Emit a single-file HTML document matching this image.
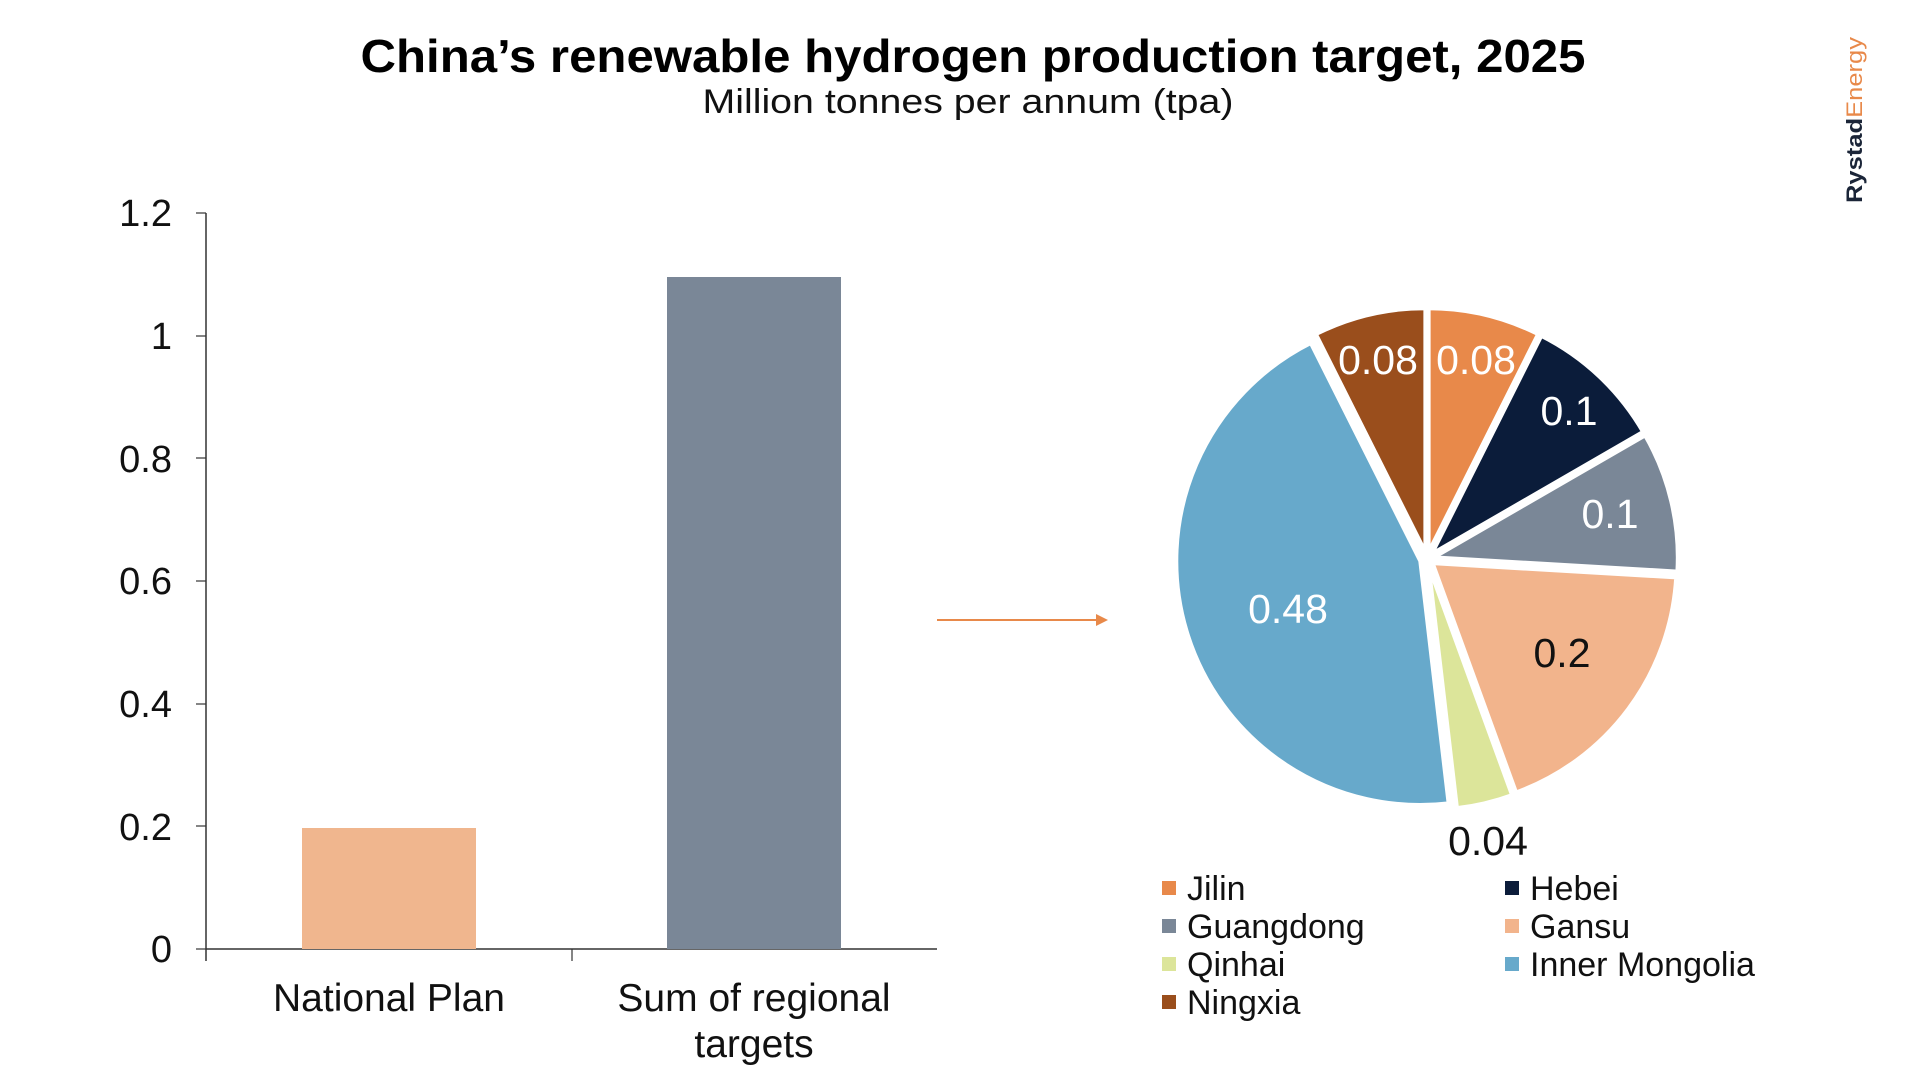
<!DOCTYPE html>
<html><head><meta charset="utf-8"><style>
html,body{margin:0;padding:0;background:#fff;}
svg{display:block;font-family:"Liberation Sans",sans-serif;}
</style></head><body>
<svg id="s" width="1920" height="1080" viewBox="0 0 1920 1080" xmlns="http://www.w3.org/2000/svg">
<text x="973" y="72" text-anchor="middle" font-size="46" font-weight="bold" fill="#000" textLength="1225" lengthAdjust="spacingAndGlyphs">China’s renewable hydrogen production target, 2025</text>
<text x="968" y="113" text-anchor="middle" font-size="34" fill="#111" textLength="531" lengthAdjust="spacingAndGlyphs">Million tonnes per annum (tpa)</text>
<text transform="translate(1862,203) rotate(-90)" font-size="22" textLength="166" lengthAdjust="spacingAndGlyphs"><tspan font-weight="bold" fill="#1b2538">Rystad</tspan><tspan fill="#E8894A">Energy</tspan></text>
<g font-size="38" fill="#111" text-anchor="end">
<text x="172" y="226">1.2</text><text x="172" y="349">1</text><text x="172" y="472">0.8</text>
<text x="172" y="594">0.6</text><text x="172" y="717">0.4</text><text x="172" y="840">0.2</text><text x="172" y="962">0</text>
</g>
<g stroke="#333" stroke-width="1.5">
<line x1="206" y1="213" x2="206" y2="961"/>
<line x1="206" y1="949" x2="937" y2="949"/>
<g stroke-width="1.2"><line x1="196" y1="213" x2="206" y2="213"/><line x1="196" y1="336" x2="206" y2="336"/><line x1="196" y1="458" x2="206" y2="458"/><line x1="196" y1="581" x2="206" y2="581"/><line x1="196" y1="704" x2="206" y2="704"/><line x1="196" y1="826" x2="206" y2="826"/><line x1="196" y1="949" x2="206" y2="949"/>
<line x1="572" y1="949" x2="572" y2="961"/></g>
</g>
<rect x="302" y="828" width="174" height="121" fill="#F0B68E"/>
<rect x="667" y="277" width="174" height="672" fill="#7A8797"/>
<g font-size="39" fill="#111" text-anchor="middle">
<text x="389" y="1011">National Plan</text>
<text x="754" y="1011">Sum of regional</text>
<text x="754" y="1057">targets</text>
</g>
<line x1="937" y1="620" x2="1100" y2="620" stroke="#E8894A" stroke-width="2"/>
<polygon points="1096,614 1108,620 1096,626" fill="#E8894A"/>
<g id="pie"></g>
<g font-size="41" text-anchor="middle">
<text x="1378" y="374" fill="#fff">0.08</text>
<text x="1476" y="374" fill="#fff">0.08</text>
<text x="1569" y="425" fill="#fff">0.1</text>
<text x="1610" y="528" fill="#fff">0.1</text>
<text x="1562" y="667" fill="#111">0.2</text>
<text x="1288" y="623" fill="#fff">0.48</text>
<text x="1488" y="855" fill="#111">0.04</text>
</g>
<g font-size="34" fill="#111">
<rect x="1162" y="881" width="14" height="14" fill="#E8894A"/><text x="1187" y="900">Jilin</text>
<rect x="1505" y="881" width="14" height="14" fill="#0B1C3A"/><text x="1530" y="900">Hebei</text>
<rect x="1162" y="919" width="14" height="14" fill="#7A8797"/><text x="1187" y="938">Guangdong</text>
<rect x="1505" y="919" width="14" height="14" fill="#F2B48C"/><text x="1530" y="938">Gansu</text>
<rect x="1162" y="957" width="14" height="14" fill="#DCE59A"/><text x="1187" y="976">Qinhai</text>
<rect x="1505" y="957" width="14" height="14" fill="#67A9CB"/><text x="1530" y="976">Inner Mongolia</text>
<rect x="1162" y="995" width="14" height="14" fill="#9A4E1C"/><text x="1187" y="1014">Ningxia</text>
</g>
</svg>
<script>
(function(){
var d=[[0.08,"#E8894A"],[0.1,"#0B1C3A"],[0.1,"#7A8797"],[0.2,"#F2B48C"],[0.04,"#DCE59A"],[0.48,"#67A9CB"],[0.08,"#9A4E1C"]];
var cx=1427,cy=559,r=244,ex=7,tot=1.08,a=0,h="";
d.forEach(function(s){
 var a1=a,a2=a+s[0]/tot*2*Math.PI,m=(a1+a2)/2;a=a2;
 var ox=cx+ex*Math.sin(m),oy=cy-ex*Math.cos(m);
 var x1=ox+r*Math.sin(a1),y1=oy-r*Math.cos(a1),x2=ox+r*Math.sin(a2),y2=oy-r*Math.cos(a2);
 var lg=(a2-a1)>Math.PI?1:0;
 h+='<path d="M'+ox+','+oy+'L'+x1+','+y1+'A'+r+','+r+' 0 '+lg+' 1 '+x2+','+y2+'Z" fill="'+s[1]+'" stroke="#fff" stroke-width="4"/>';
});
document.getElementById("pie").innerHTML=h;
})();
</script>
</body></html>
